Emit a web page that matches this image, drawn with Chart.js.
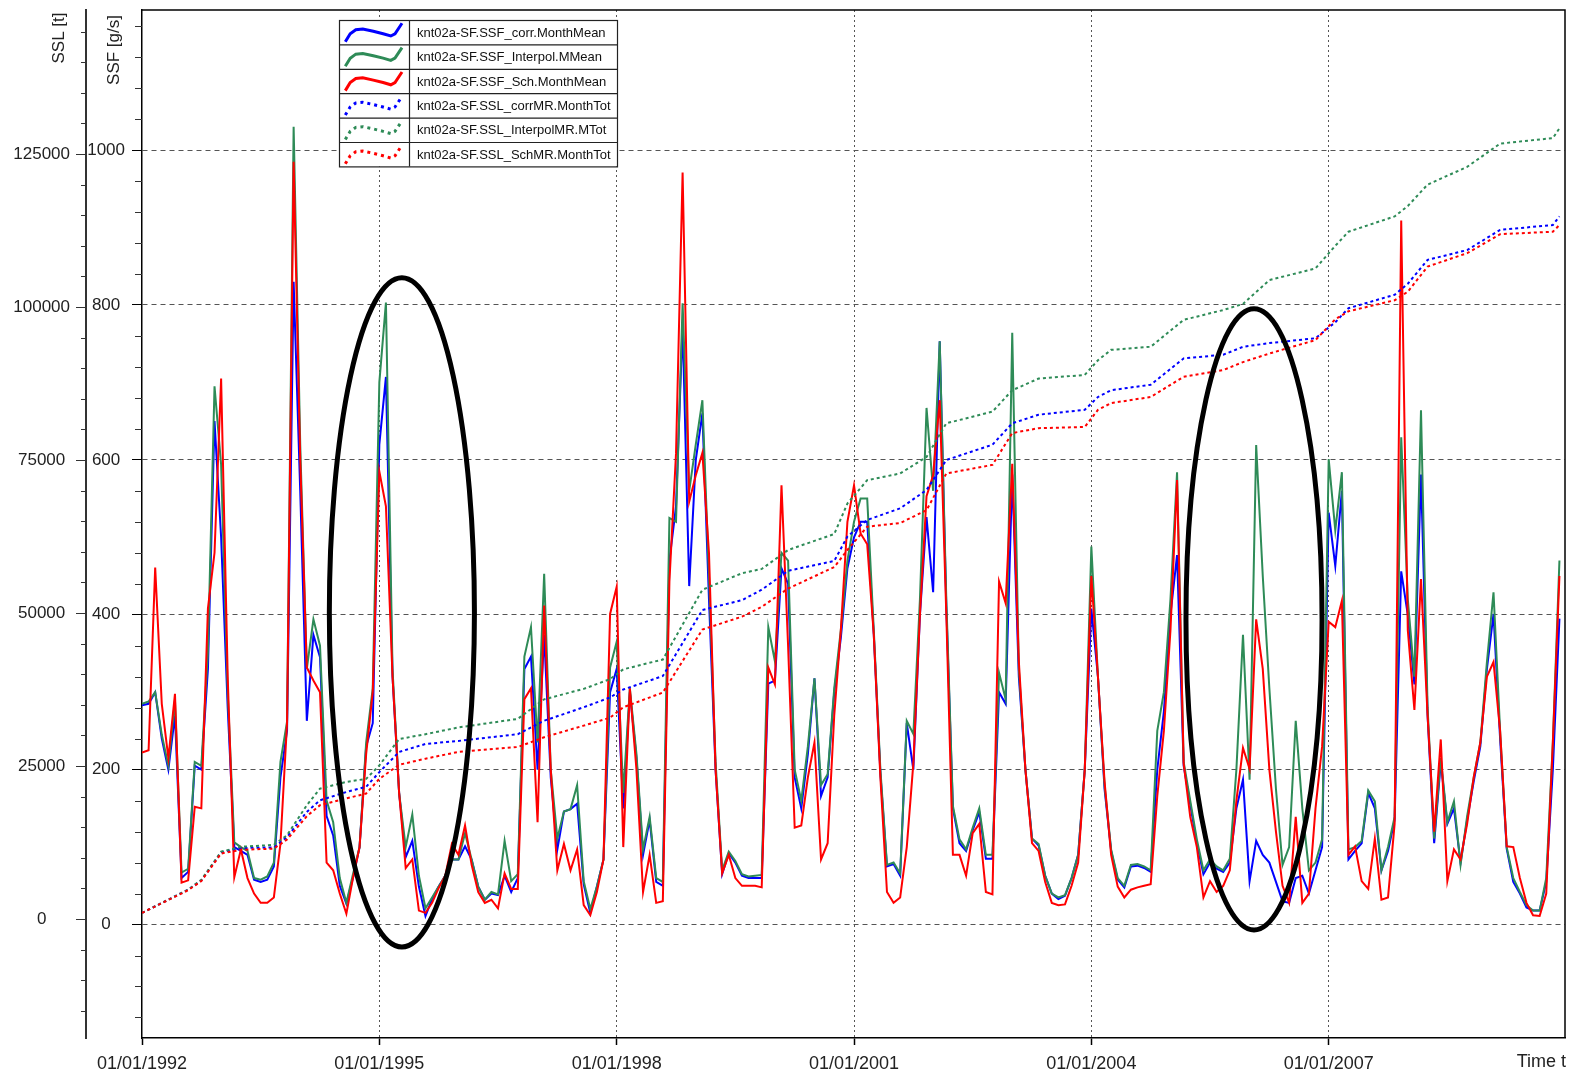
<!DOCTYPE html>
<html>
<head>
<meta charset="utf-8">
<script src="https://cdn.jsdelivr.net/npm/chart.js@4.4.1/dist/chart.umd.min.js"></script>
<style>
  html, body { margin: 0; padding: 0; background: #fff; }
  #wrap { width: 1573px; height: 1075px; position: relative; }
</style>
</head>
<body>
<div id="wrap"><canvas id="ssf"></canvas></div>
<script>
const startYear = 1992;

// monthly means SSF [g/s], Jan 1992 .. Dec 2009 (one row per year)
const ssfCorr = [
  283,285,300,240,200,270,60,68,205,200,330,650,
  500,280,100,95,90,58,55,58,75,190,250,830,
  560,263,374,345,140,115,50,27,60,100,230,260,
  620,707,320,170,87,108,49,11,33,49,63,84,
  84,101,84,49,32,40,38,63,42,60,330,346,
  200,374,190,97,146,149,156,52,15,49,84,300,
  330,150,300,215,90,135,55,50,470,540,774,437,
  600,660,420,200,65,92,80,63,60,60,60,311,
  315,460,440,190,150,220,318,166,190,300,370,460,
  500,520,520,374,195,75,78,63,260,200,400,526,
  429,753,410,150,105,95,122,145,85,85,300,285,
  581,320,200,111,102,63,40,33,37,60,90,200,
  408,320,175,95,58,48,75,76,73,68,200,275,
  400,477,205,155,105,65,80,72,68,80,150,187,
  56,108,90,80,55,30,28,60,63,40,70,100,
  532,463,560,84,95,105,170,150,70,95,135,456,
  400,310,581,270,105,210,130,150,80,135,185,230,
  330,401,240,98,55,40,22,18,18,55,200,395
];
const ssfInterpol = [
  285,288,300,245,205,290,67,72,210,205,352,695,
  594,300,106,100,95,60,58,62,80,210,262,1030,
  620,330,394,360,160,132,60,28,65,100,235,305,
  700,803,330,170,100,142,63,21,35,49,63,84,
  84,118,84,49,32,42,39,108,56,65,346,384,
  235,453,200,111,146,149,180,56,20,49,84,332,
  365,170,305,220,97,139,60,55,525,520,802,560,
  620,677,450,210,70,94,82,65,62,63,64,384,
  340,480,470,200,160,230,318,180,194,305,380,470,
  520,550,550,380,200,77,80,66,263,246,420,667,
  560,753,420,153,110,97,125,150,90,90,325,291,
  764,330,200,111,104,63,40,35,38,60,90,200,
  488,320,180,97,60,50,77,78,75,70,250,300,
  420,584,210,160,110,70,84,75,70,85,200,374,
  187,619,450,305,175,77,100,263,150,70,80,110,
  601,509,584,97,100,108,173,159,70,100,139,629,
  420,320,664,280,111,215,132,159,77,140,190,235,
  339,429,250,100,60,42,25,18,18,60,235,470
];
const ssfSch = [
  222,225,461,285,215,298,54,57,152,150,408,480,
  705,320,61,97,60,40,28,28,35,104,260,985,
  600,332,315,300,80,70,40,14,60,100,220,300,
  585,540,320,170,73,84,18,15,28,47,63,104,
  90,128,77,42,28,32,21,66,46,46,291,305,
  132,412,200,70,104,70,97,25,12,42,84,401,
  436,100,305,200,42,90,28,30,443,608,971,546,
  580,609,480,200,66,90,60,50,50,50,48,332,
  310,567,360,125,128,190,235,84,105,270,380,520,
  567,505,491,374,190,42,28,35,100,208,400,553,
  580,677,400,90,90,63,118,130,42,39,443,415,
  595,340,200,105,95,55,28,25,26,50,80,200,
  450,320,185,90,49,35,45,48,50,52,166,250,
  380,574,208,139,100,35,56,42,50,70,160,228,
  201,394,330,200,120,50,28,139,28,40,150,230,
  391,384,418,90,101,56,46,111,32,35,130,909,
  380,277,446,270,120,239,56,97,84,130,190,235,
  320,339,250,101,100,60,28,12,11,40,235,450
];

// cumulated loads SSL [t], read at these month indices (0 = Jan 1992)
const sslMonths = [0,7,9,12,15,20,22,25,27,31,34,36,39,43,48,57,61,67,71,73,79,85,91,94,98,105,107,110,115,119,122,129,132,136,143,145,147,153,158,164,167,171,178,181,183,190,192,195,201,206,214,215];
const sslInterpol = [1000,4800,6400,11000,11800,12100,13700,18600,21300,22400,22900,25100,29400,30200,31300,32700,35900,37600,39200,40800,42400,53800,56500,57200,60300,62900,67900,71700,72800,75500,81000,82900,86400,88300,88900,91300,93000,93500,97900,99500,100500,104400,106300,110000,112300,114800,116500,120000,122900,126700,127600,129200];
const sslCorr = [1000,4800,6300,10900,11600,11700,13400,17500,19400,20750,21600,24000,27300,28600,29100,30200,32400,34600,36200,37500,39700,50500,52100,53800,56900,58500,62500,65200,67100,70100,75000,77500,81000,82400,83200,85300,86400,87300,91600,92200,93500,94100,94900,97500,99800,102000,103800,107700,109300,112600,113400,114800];
const sslSch = [1000,4700,6200,10700,11300,11500,13000,16800,18600,19700,20500,22900,25200,26200,27300,28100,29700,31600,32900,34600,37000,47300,49400,51000,54000,57500,60300,64100,64700,66800,72800,74200,79400,80200,80400,83200,84300,85300,88600,89700,91000,92400,94600,98000,99300,101100,102500,106600,108800,111900,112300,113400];

const yearTicks = [1992, 1995, 1998, 2001, 2004, 2007];
const ssfTicks = [0, 200, 400, 600, 800, 1000];
const sslTicks = [0, 25000, 50000, 75000, 100000, 125000];

const legendLabels = [
  'knt02a-SF.SSF_corr.MonthMean',
  'knt02a-SF.SSF_Interpol.MMean',
  'knt02a-SF.SSF_Sch.MonthMean',
  'knt02a-SF.SSL_corrMR.MonthTot',
  'knt02a-SF.SSL_InterpolMR.MTot',
  'knt02a-SF.SSL_SchMR.MonthTot'
];

// marked periods: centre (year, g/s) and half axes (years, g/s)
const marks = [
  { x: 1995.285, y: 403, rx: 0.917, ry: 432 },
  { x: 2006.056, y: 394, rx: 0.86, ry: 401 }
];

const BLUE = '#0000ff', GREEN = '#2e8b57', RED = '#ff0000';
const FONT = '"Liberation Sans", Arial, sans-serif';

const monthly = arr => arr.map((v, i) => ({ x: startYear + i / 12, y: v }));
const sparse = arr => arr.map((v, i) => ({ x: startYear + sslMonths[i] / 12, y: v }));

const solid = (label, data, color, order) => ({
  label, data: monthly(data), yAxisID: 'ySSF', borderColor: color,
  borderWidth: 2, pointRadius: 0, tension: 0, order
});
const dotted = (label, data, color, order) => ({
  label, data: sparse(data), yAxisID: 'ySSL', borderColor: color,
  borderWidth: 2, borderDash: [3, 3], pointRadius: 0, tension: 0, order
});

const ssfMinor = [];
for (let v = -120; v <= 1160; v += 40) if (v % 200 !== 0) ssfMinor.push(v);
const sslMinor = [];
for (let v = -15000; v <= 145000; v += 5000) if (v % 25000 !== 0) sslMinor.push(v);

const setTicks = list => axis => { axis.ticks = list.map(v => ({ value: v })); };
const noPad = w => axis => {
  if (w.width) axis.width = w.width;
  if (w.height) axis.height = w.height;
  axis.paddingTop = 0; axis.paddingBottom = 0; axis.paddingLeft = 0; axis.paddingRight = 0;
};

const extras = {
  id: 'extras',
  afterDraw(chart) {
    const c = chart.ctx, a = chart.chartArea;
    const sx = chart.scales.x, sf = chart.scales.ySSF, sl = chart.scales.ySSL;
    c.save();

    // frame top / right
    c.strokeStyle = '#000';
    c.lineWidth = 1.5;
    c.beginPath();
    c.moveTo(a.left, a.top);
    c.lineTo(a.right, a.top);
    c.lineTo(a.right, a.bottom);
    c.stroke();

    // minor ticks
    c.lineWidth = 1;
    c.strokeStyle = '#333';
    ssfMinor.forEach(v => {
      const y = Math.round(sf.getPixelForValue(v)) + 0.5;
      c.beginPath(); c.moveTo(sf.right - 7, y); c.lineTo(sf.right, y); c.stroke();
    });
    sslMinor.forEach(v => {
      const y = Math.round(sl.getPixelForValue(v)) + 0.5;
      c.beginPath(); c.moveTo(sl.right - 5, y); c.lineTo(sl.right, y); c.stroke();
    });

    // axis titles
    c.fillStyle = '#222';
    c.font = '17px ' + FONT;
    c.textAlign = 'center';
    c.textBaseline = 'middle';
    [['SSL [t]', 59, 38], ['SSF [g/s]', 114, 50]].forEach(([t, x, y]) => {
      c.save(); c.translate(x, y); c.rotate(-Math.PI / 2); c.fillText(t, 0, 0); c.restore();
    });
    c.font = '18px ' + FONT;
    c.textAlign = 'right';
    c.fillText('Time t', a.right + 1, 1062);

    // marked periods
    c.strokeStyle = '#000';
    c.lineWidth = 5;
    marks.forEach(m => {
      const cx = sx.getPixelForValue(m.x), cy = sf.getPixelForValue(m.y);
      const rx = sx.getPixelForValue(m.x + m.rx) - cx;
      const ry = sf.getPixelForValue(m.y - m.ry) - cy;
      c.beginPath(); c.ellipse(cx, cy, rx, ry, 0, 0, Math.PI * 2); c.stroke();
    });

    // legend box
    const lx = 339, ly = 20, lw = 278, rh = 24.4, cw = 70;
    c.fillStyle = '#fff';
    c.fillRect(lx, ly, lw, rh * 6);
    const styles = [[BLUE, []], [GREEN, []], [RED, []], [BLUE, [3, 4]], [GREEN, [3, 4]], [RED, [3, 4]]];
    const shape = [[.09,.93],[.16,.57],[.24,.39],[.34,.36],[.49,.46],[.63,.57],[.74,.67],[.80,.57],[.90,.10]];
    styles.forEach(([col, dash], i) => {
      const top = ly + i * rh;
      c.strokeStyle = col; c.lineWidth = 3; c.setLineDash(dash);
      c.beginPath();
      shape.forEach(([fx, fy], k) => {
        const px = lx + fx * cw, py = top + 1 + fy * (rh - 2);
        k ? c.lineTo(px, py) : c.moveTo(px, py);
      });
      c.stroke();
      c.setLineDash([]);
      c.fillStyle = '#111';
      c.font = '13px ' + FONT;
      c.textAlign = 'left';
      c.textBaseline = 'middle';
      c.fillText(legendLabels[i], lx + cw + 8, top + rh / 2 + 1);
    });
    c.strokeStyle = '#222';
    c.lineWidth = 1.2;
    c.strokeRect(lx + 0.5, ly + 0.5, lw, rh * 6);
    c.beginPath();
    c.moveTo(lx + cw + 0.5, ly); c.lineTo(lx + cw + 0.5, ly + rh * 6);
    for (let i = 1; i < 6; i++) { c.moveTo(lx, ly + i * rh + 0.5); c.lineTo(lx + lw, ly + i * rh + 0.5); }
    c.stroke();
    c.restore();
  }
};

new Chart(document.getElementById('ssf'), {
  type: 'line',
  data: {
    datasets: [
      dotted(legendLabels[3], sslCorr, BLUE, 2),
      dotted(legendLabels[4], sslInterpol, GREEN, 1),
      dotted(legendLabels[5], sslSch, RED, 0),
      solid(legendLabels[0], ssfCorr, BLUE, 5),
      solid(legendLabels[1], ssfInterpol, GREEN, 4),
      solid(legendLabels[2], ssfSch, RED, 3)
    ]
  },
  options: {
    responsive: true,
    maintainAspectRatio: false,
    animation: false,
    layout: { padding: { top: 10, right: 8, left: 0, bottom: 0 } },
    plugins: { legend: { display: false }, tooltip: { enabled: false } },
    scales: {
      x: {
        type: 'linear',
        min: 1992,
        max: 2009.987,
        afterBuildTicks: setTicks(yearTicks),
        afterFit: noPad({ height: 37 }),
        grid: {
          color: ctx => (ctx.tick && ctx.tick.value === 1992) ? 'rgba(0,0,0,0)' : '#555',
          lineWidth: 1, tickColor: '#000', tickLength: 7, tickWidth: 1.5
        },
        border: { color: '#000', width: 1.5, dash: [2, 3] },
        ticks: {
          callback: v => '01/01/' + v, color: '#222', padding: 8,
          maxRotation: 0, autoSkip: false, font: { family: FONT, size: 18 }
        }
      },
      ySSF: {
        type: 'linear',
        position: 'left',
        weight: 0,
        min: -146.5,
        max: 1180.8,
        afterBuildTicks: setTicks(ssfTicks),
        afterFit: noPad({ width: 56 }),
        grid: { color: '#555', lineWidth: 1, tickColor: '#000', tickLength: 10 },
        border: { color: '#000', width: 1.5, dash: [5, 4] },
        ticks: {
          callback: v => String(v), color: '#222', padding: 7, crossAlign: 'center', autoSkip: false,
          font: { family: FONT, size: 17 }
        }
      },
      ySSL: {
        type: 'linear',
        position: 'left',
        weight: 1,
        min: -19444,
        max: 148530,
        afterBuildTicks: setTicks(sslTicks),
        afterFit: noPad({ width: 86 }),
        grid: { drawOnChartArea: false, tickColor: '#333', tickLength: 10 },
        border: { color: '#333', width: 2 },
        ticks: {
          callback: v => String(v), color: '#222', padding: 6, crossAlign: 'center', autoSkip: false,
          font: { family: FONT, size: 17 }
        }
      }
    }
  },
  plugins: [extras]
});
</script>
</body>
</html>
